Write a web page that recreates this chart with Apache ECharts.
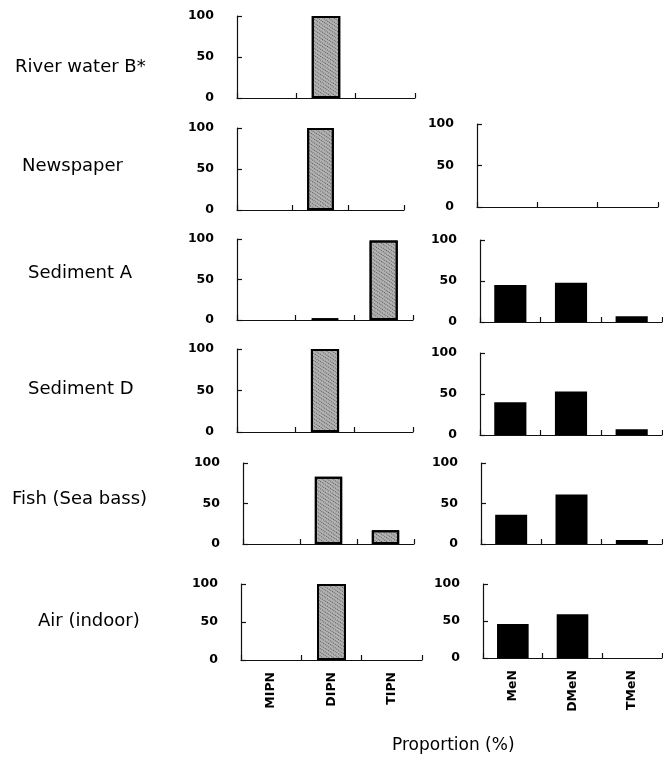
<!DOCTYPE html>
<html>
<head>
<meta charset="utf-8">
<script src="https://cdn.jsdelivr.net/npm/echarts@6/dist/echarts.min.js"></script>
<style>html,body{margin:0;padding:0;background:#fff}#c{width:663px;height:760px}</style>
</head>
<body>
<div id="c"></div>
<script>
// ---- data ----
var samples = ['River water B*', 'Newspaper', 'Sediment A', 'Sediment D', 'Fish (Sea bass)', 'Air (indoor)'];
var ipnCats = ['MIPN', 'DIPN', 'TIPN'];
var menCats = ['MeN', 'DMeN', 'TMeN'];
var yTicks = [0, 50, 100];
var ipnRiverB   = [0, 100, 0];
var ipnNews     = [0, 100, 0];
var ipnSedA     = [0, 2, 98];
var ipnSedD     = [0, 100, 0];
var ipnFish     = [0, 83, 17];
var ipnAir      = [0, 100, 0];
var menRiverB   = null;            // no MeN panel
var menNews     = [0, 0, 0];
var menSedA     = [45, 48, 7];
var menSedD     = [40, 53, 7];
var menFish     = [36, 61, 5];
var menAir      = [46, 59, 0];
var xTitle = 'Proportion (%)';

var ipnData = [ipnRiverB, ipnNews, ipnSedA, ipnSedD, ipnFish, ipnAir];
var menData = [menRiverB, menNews, menSedA, menSedD, menFish, menAir];

// ---- layout (pixel boxes: left, right, top(100), bottom(0)) ----
var leftBoxes = [
  [237, 415, 16, 98],
  [237, 404, 128, 210],
  [237, 413, 239, 320],
  [237, 413, 349, 432],
  [243, 414, 463, 544],
  [241, 422, 584, 660]
];
var rightBoxes = [
  null,
  [477, 658, 124, 207],
  [480, 662, 240, 322],
  [480, 662, 353, 435],
  [481, 662, 463, 544],
  [483, 662, 584, 658]
];
var labelPos = [[15, 69], [22, 168], [28, 275], [28, 391], [12, 501], [38, 623]];

var FONT = 'DejaVu Sans';
var grids = [], xAxes = [], yAxes = [], series = [], graphics = [];

function addPanel(box, cats, vals, isLast, left) {
  var gi = grids.length;
  grids.push({left: box[0], top: box[2], width: box[1] - box[0], height: box[3] - box[2]});
  xAxes.push({
    type: 'category', gridIndex: gi, data: cats,
    axisLine: {show: true, lineStyle: {color: '#111', width: 1.2}},
    axisTick: {show: true, inside: true, length: 5, lineStyle: {color: '#111', width: 1.2}},
    axisLabel: isLast ? {show: true, rotate: 90, margin: 12, color: '#000',
      fontFamily: FONT, fontWeight: 'bold', fontSize: 12.5} : {show: false},
    splitLine: {show: false}
  });
  yAxes.push({
    type: 'value', gridIndex: gi, min: yTicks[0], max: yTicks[yTicks.length - 1],
    interval: yTicks[1] - yTicks[0],
    axisLine: {show: true, lineStyle: {color: '#111', width: 1.2}},
    axisTick: {show: true, inside: true, length: 5, lineStyle: {color: '#111', width: 1.2}},
    axisLabel: {show: true, margin: 23, color: '#000', fontFamily: FONT, fontWeight: 'bold', fontSize: 12.5},
    splitLine: {show: false}
  });
  series.push({
    type: 'bar', xAxisIndex: gi, yAxisIndex: gi,
    barWidth: left ? '48%' : '53%',
    data: vals.map(function (v) { return v > 0 ? v : '-'; }),
    itemStyle: left ? {
        color: '#b2b2b2', borderColor: '#000', borderWidth: 2,
        decal: {symbol: 'rect', symbolSize: 1, dashArrayX: [1, 1], dashArrayY: [1, 2],
                rotation: 0.6, color: 'rgba(30,30,30,0.6)'}
      } : {color: '#000'},
    silent: true
  });
}

for (var i = 0; i < samples.length; i++) {
  var last = (i === samples.length - 1);
  addPanel(leftBoxes[i], ipnCats, ipnData[i], last, true);
  if (menData[i]) addPanel(rightBoxes[i], menCats, menData[i], last, false);
  graphics.push({
    type: 'text', left: labelPos[i][0], top: labelPos[i][1] - 11,
    style: {text: samples[i], fontFamily: FONT, fontSize: 18, fill: '#000'}
  });
}
graphics.push({
  type: 'text', left: 392, top: 737,
  style: {text: xTitle, fontFamily: FONT, fontSize: 17, fill: '#000'}
});

var chart = echarts.init(document.getElementById('c'), null, {renderer: 'canvas'});
chart.setOption({
  backgroundColor: '#fff',
  animation: false,
  grid: grids, xAxis: xAxes, yAxis: yAxes, series: series, graphic: graphics
});
</script>
</body>
</html>
